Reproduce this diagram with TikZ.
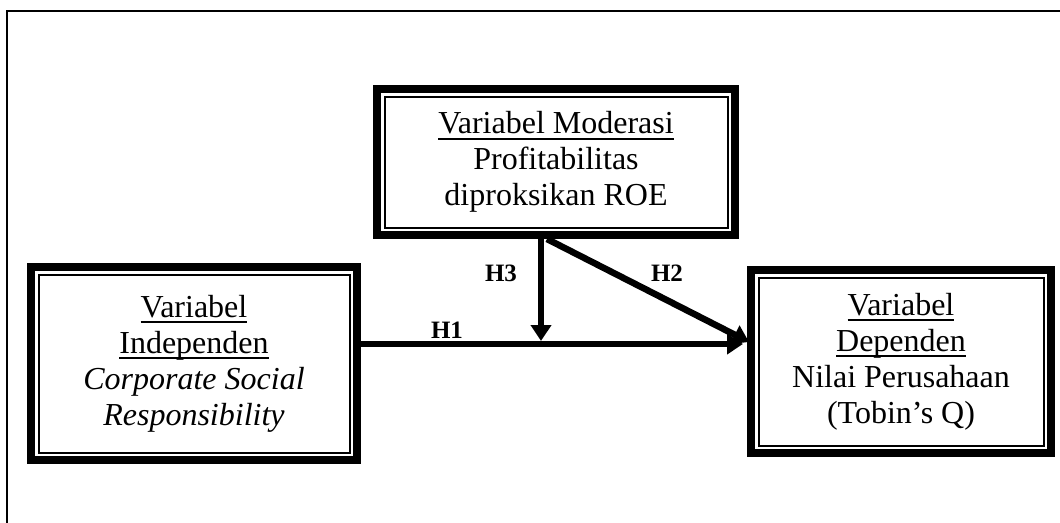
\documentclass[tikz,border=0pt]{standalone}
\usepackage{fontspec}
\setmainfont{Liberation Serif}
\usetikzlibrary{arrows.meta}
\newcommand\ulx[1]{\setbox0\hbox{#1}\rlap{\rule[-6pt]{\wd0}{1.8pt}}\box0}
\tikzset{
  varbox/.style={draw, line width=8pt, inner sep=0pt, align=center,
    font=\fontsize{32}{36}\selectfont,
    path picture={\draw[line width=2pt]
      ([shift={(7.5pt,-7.5pt)}]path picture bounding box.north west) rectangle
      ([shift={(-7.5pt,7.5pt)}]path picture bounding box.south east);}},
  arr/.style={line width=6pt, -{Triangle[length=16pt,width=20pt]}},
  hlab/.style={font=\fontsize{25}{29}\selectfont\bfseries, inner sep=0pt},
  frame/.style={line width=2pt}
}
\begin{document}
\begin{tikzpicture}[x=1pt,y=-1pt]
\useasboundingbox (0,0) rectangle (1060,522);
\clip (0,0) rectangle (1060,522);
\draw[frame] (7,11) rectangle (1080,560);
\node[varbox, minimum width=358pt, minimum height=146pt] (T) at (556,162)
  {\ulx{Variabel Moderasi}\\Profitabilitas\\diproksikan ROE};
\node[varbox, minimum width=326pt, minimum height=193pt] (L) at (194,363.5)
  {\ulx{Variabel}\\\ulx{Independen}\\\textit{Corporate Social}\\\textit{Responsibility}};
\node[varbox, minimum width=300pt, minimum height=183pt] (R) at (901,361.5)
  {\ulx{Variabel}\\\ulx{Dependen}\\Nilai Perusahaan\\(Tobin’s Q)};
\coordinate (hy) at (0,344);
\coordinate (j) at (541,341);
\coordinate (d) at (547,0);
\coordinate (h2) at (749,342);
\draw[arr, shorten >=4pt] (L.east |- hy) -- (R.west |- hy);
\draw[arr] (T.south -| j) -- (j);
\draw[arr, line width=6.5pt] (T.south -| d) -- (h2);
\node[hlab] (H1) at (447,330) {H1};
\node[hlab] (H3) at (501,273) {H3};
\node[hlab] (H2) at (667,273) {H2};
\end{tikzpicture}
\end{document}
